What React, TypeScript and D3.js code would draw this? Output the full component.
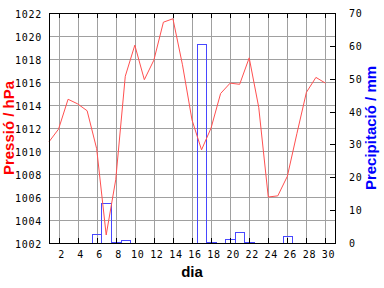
import React from "react";
import * as d3 from "d3";

const days = d3.range(1, 31);
const pressure = [
  1010.8, 1011.9, 1014.5, 1014.1, 1013.5, 1010.2, 1002.7, 1007.5, 1016.5, 1019.2,
  1016.2, 1017.9, 1021.2, 1021.5, 1017.5, 1012.7, 1010.1, 1012.0, 1015.0, 1015.9,
  1015.8, 1018.1, 1013.8, 1006.0, 1006.1, 1007.8, 1011.5, 1015.1, 1016.4, 1015.9,
];
const precip = [
  0, 0, 0, 0, 0, 2.6, 12.3, 0.2, 0.8, 0,
  0, 0, 0, 0, 0, 0, 60.5, 0.2, 0, 1.1,
  3.3, 0.2, 0, 0, 0, 2.0, 0, 0, 0, 0,
];
const xTicks = d3.range(2, 31, 2);
const yTicks = d3.range(1002, 1023, 2);
const y2Ticks = d3.range(0, 71, 10);
const xTitle = "dia";
const yTitle = "Pressió / hPa";
const y2Title = "Precipitació / mm";

const W = 384, H = 288;
const L = 49, R = 335, T = 13, B = 243;

export default function App() {
  const x = d3.scaleLinear().domain([1, 31]).range([L, R]);
  const y = d3.scaleLinear().domain([1002, 1022]).range([B, T]);
  const y2 = d3.scaleLinear().domain([0, 70]).range([B, T]);
  const line = d3
    .line<number>()
    .x((_, i) => x(days[i]))
    .y((d) => y(d))(pressure) as string;
  const tickFont = { fontFamily: "DejaVu Sans Mono", fontSize: 10, letterSpacing: 0.7 };
  const titleFont = { fontFamily: "Liberation Sans", fontWeight: "bold", fontSize: 15 };
  return (
    <svg width={W} height={H} style={{ position: "absolute", left: 0, top: 0, background: "#fff" }}>
      <rect x={0} y={0} width={W} height={H} fill="#fff" />
      <g shapeRendering="crispEdges" stroke="#a0a0a0" strokeWidth={1}>
        {xTicks.map((t) => (
          <line key={"gx" + t} x1={x(t) + 0.5} x2={x(t) + 0.5} y1={T} y2={B} />
        ))}
        {yTicks.slice(1, -1).map((t) => (
          <line key={"gy" + t} x1={L} x2={R} y1={y(t) + 0.5} y2={y(t) + 0.5} />
        ))}
      </g>
      <g fill="none" stroke="#4848ff" strokeWidth={1} shapeRendering="crispEdges">
        {precip.map((v, i) =>
          v > 0 ? (
            <rect
              key={"b" + i}
              x={x(days[i] - 0.5) + 0.5}
              y={y2(v) + 0.5}
              width={x(days[i] + 0.5) - x(days[i] - 0.5)}
              height={B - y2(v)}
            />
          ) : null
        )}
      </g>
      <path d={line} fill="none" stroke="#ff5050" strokeWidth={1} />
      <g stroke="#000" strokeWidth={1} shapeRendering="crispEdges">
        {xTicks.map((t) => (
          <g key={"t" + t}>
            <line x1={x(t) + 0.5} x2={x(t) + 0.5} y1={B} y2={B - 5} />
            <line x1={x(t) + 0.5} x2={x(t) + 0.5} y1={T} y2={T + 5} />
          </g>
        ))}
        {y2Ticks.map((t) => (
          <line key={"r" + t} x1={R} x2={R - 5} y1={y2(t) + 0.5} y2={y2(t) + 0.5} />
        ))}
        <rect x={L + 0.5} y={T + 0.5} width={R - L} height={B - T} fill="none" />
      </g>
      <g {...tickFont} fill="#000">
        {yTicks.map((t) => (
          <text key={"ly" + t} x={42} y={y(t) + 4.5} textAnchor="end">
            {t}
          </text>
        ))}
        {y2Ticks.map((t) => (
          <text key={"ry" + t} x={349} y={y2(t) + 4} textAnchor="start">
            {t}
          </text>
        ))}
        {xTicks.map((t) => (
          <text key={"lx" + t} x={x(t) + 3} y={258} textAnchor="middle">
            {t}
          </text>
        ))}
      </g>
      <text {...titleFont} x={(L + R) / 2} y={277} textAnchor="middle" fill="#000">
        {xTitle}
      </text>
      <text
        {...titleFont}
        transform={`translate(14,${(T + B) / 2}) rotate(-90)`}
        textAnchor="middle"
        fill="#ff0000"
      >
        {yTitle}
      </text>
      <text
        {...titleFont}
        transform={`translate(376,${(T + B) / 2}) rotate(-90)`}
        textAnchor="middle"
        fill="#0000ff"
      >
        {y2Title}
      </text>
    </svg>
  );
}
